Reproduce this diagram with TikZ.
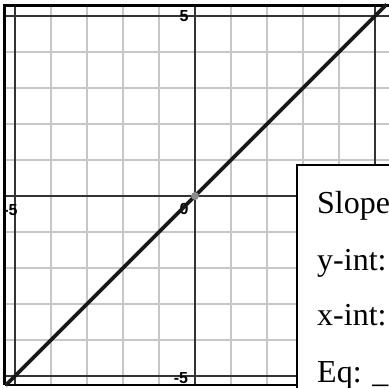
\documentclass[tikz,border=0pt]{standalone}
\usepackage{fontspec}
\setmainfont{Liberation Serif}
\newfontfamily\labelfont{Liberation Sans}
\begin{document}
\begin{tikzpicture}[x=36pt,y=36pt,
  gridline/.style={draw=black!22,line width=1.1pt},
  axisline/.style={draw=black!80,line width=1.4pt},
  frameline/.style={draw=black,line width=2.4pt},
  ticklabel/.style={font=\labelfont\bfseries\fontsize{16}{16}\selectfont, inner sep=0pt},
  answer/.style={font=\fontsize{32}{32}\selectfont, anchor=base west, inner sep=0pt}]
\useasboundingbox (-5.4167,-5.3333) rectangle (5.3889,5.4444);
% grid
\foreach \i in {-4,...,-1,1,2,3,4} {
  \draw[gridline] (\i,-5.25) -- (\i,5.29);
  \draw[gridline] (-5.29,\i) -- (5.39,\i);
}
% axes and limit lines
\foreach \i in {-5,0,5} {
  \draw[axisline] (\i,-5.25) -- (\i,5.29);
  \draw[axisline] (-5.29,\i) -- (5.39,\i);
}
% frame
\draw[frameline] (-5.29,-5.25) -- (-5.29,5.29) -- (5.39,5.29);
\draw[frameline] (-5.29,-5.25) -- (5.39,-5.25);
% tick labels
\node[ticklabel] (ytop) at (-0.306,5.0) {5};
\node[ticklabel] (orig) at (-0.306,-0.36) {0};
\node[ticklabel] (xleft) at (-5.125,-0.39) {-5};
\node[ticklabel] (ybot) at (-0.389,-5.07) {-5};
% line y = x
\coordinate (lstart) at (-5.26,-5.26);
\coordinate (lend) at (5.32,5.32);
\draw[draw=black!90,line width=3.6pt] (lstart) -- (lend);
\fill[black!45] (0,0) circle (4pt);
% answer box
\draw[fill=white,line width=2pt] (2.833,0.861) rectangle (6,-6);
\node[answer] (slope) at (3.389,-0.5) {Slope};
\node[answer] (yint) at (3.389,-2.056) {y-int:};
\node[answer] (xint) at (3.389,-3.611) {x-int:};
\node[answer] (eq) at (3.389,-5.167) {Eq: \_};
\end{tikzpicture}
\end{document}
